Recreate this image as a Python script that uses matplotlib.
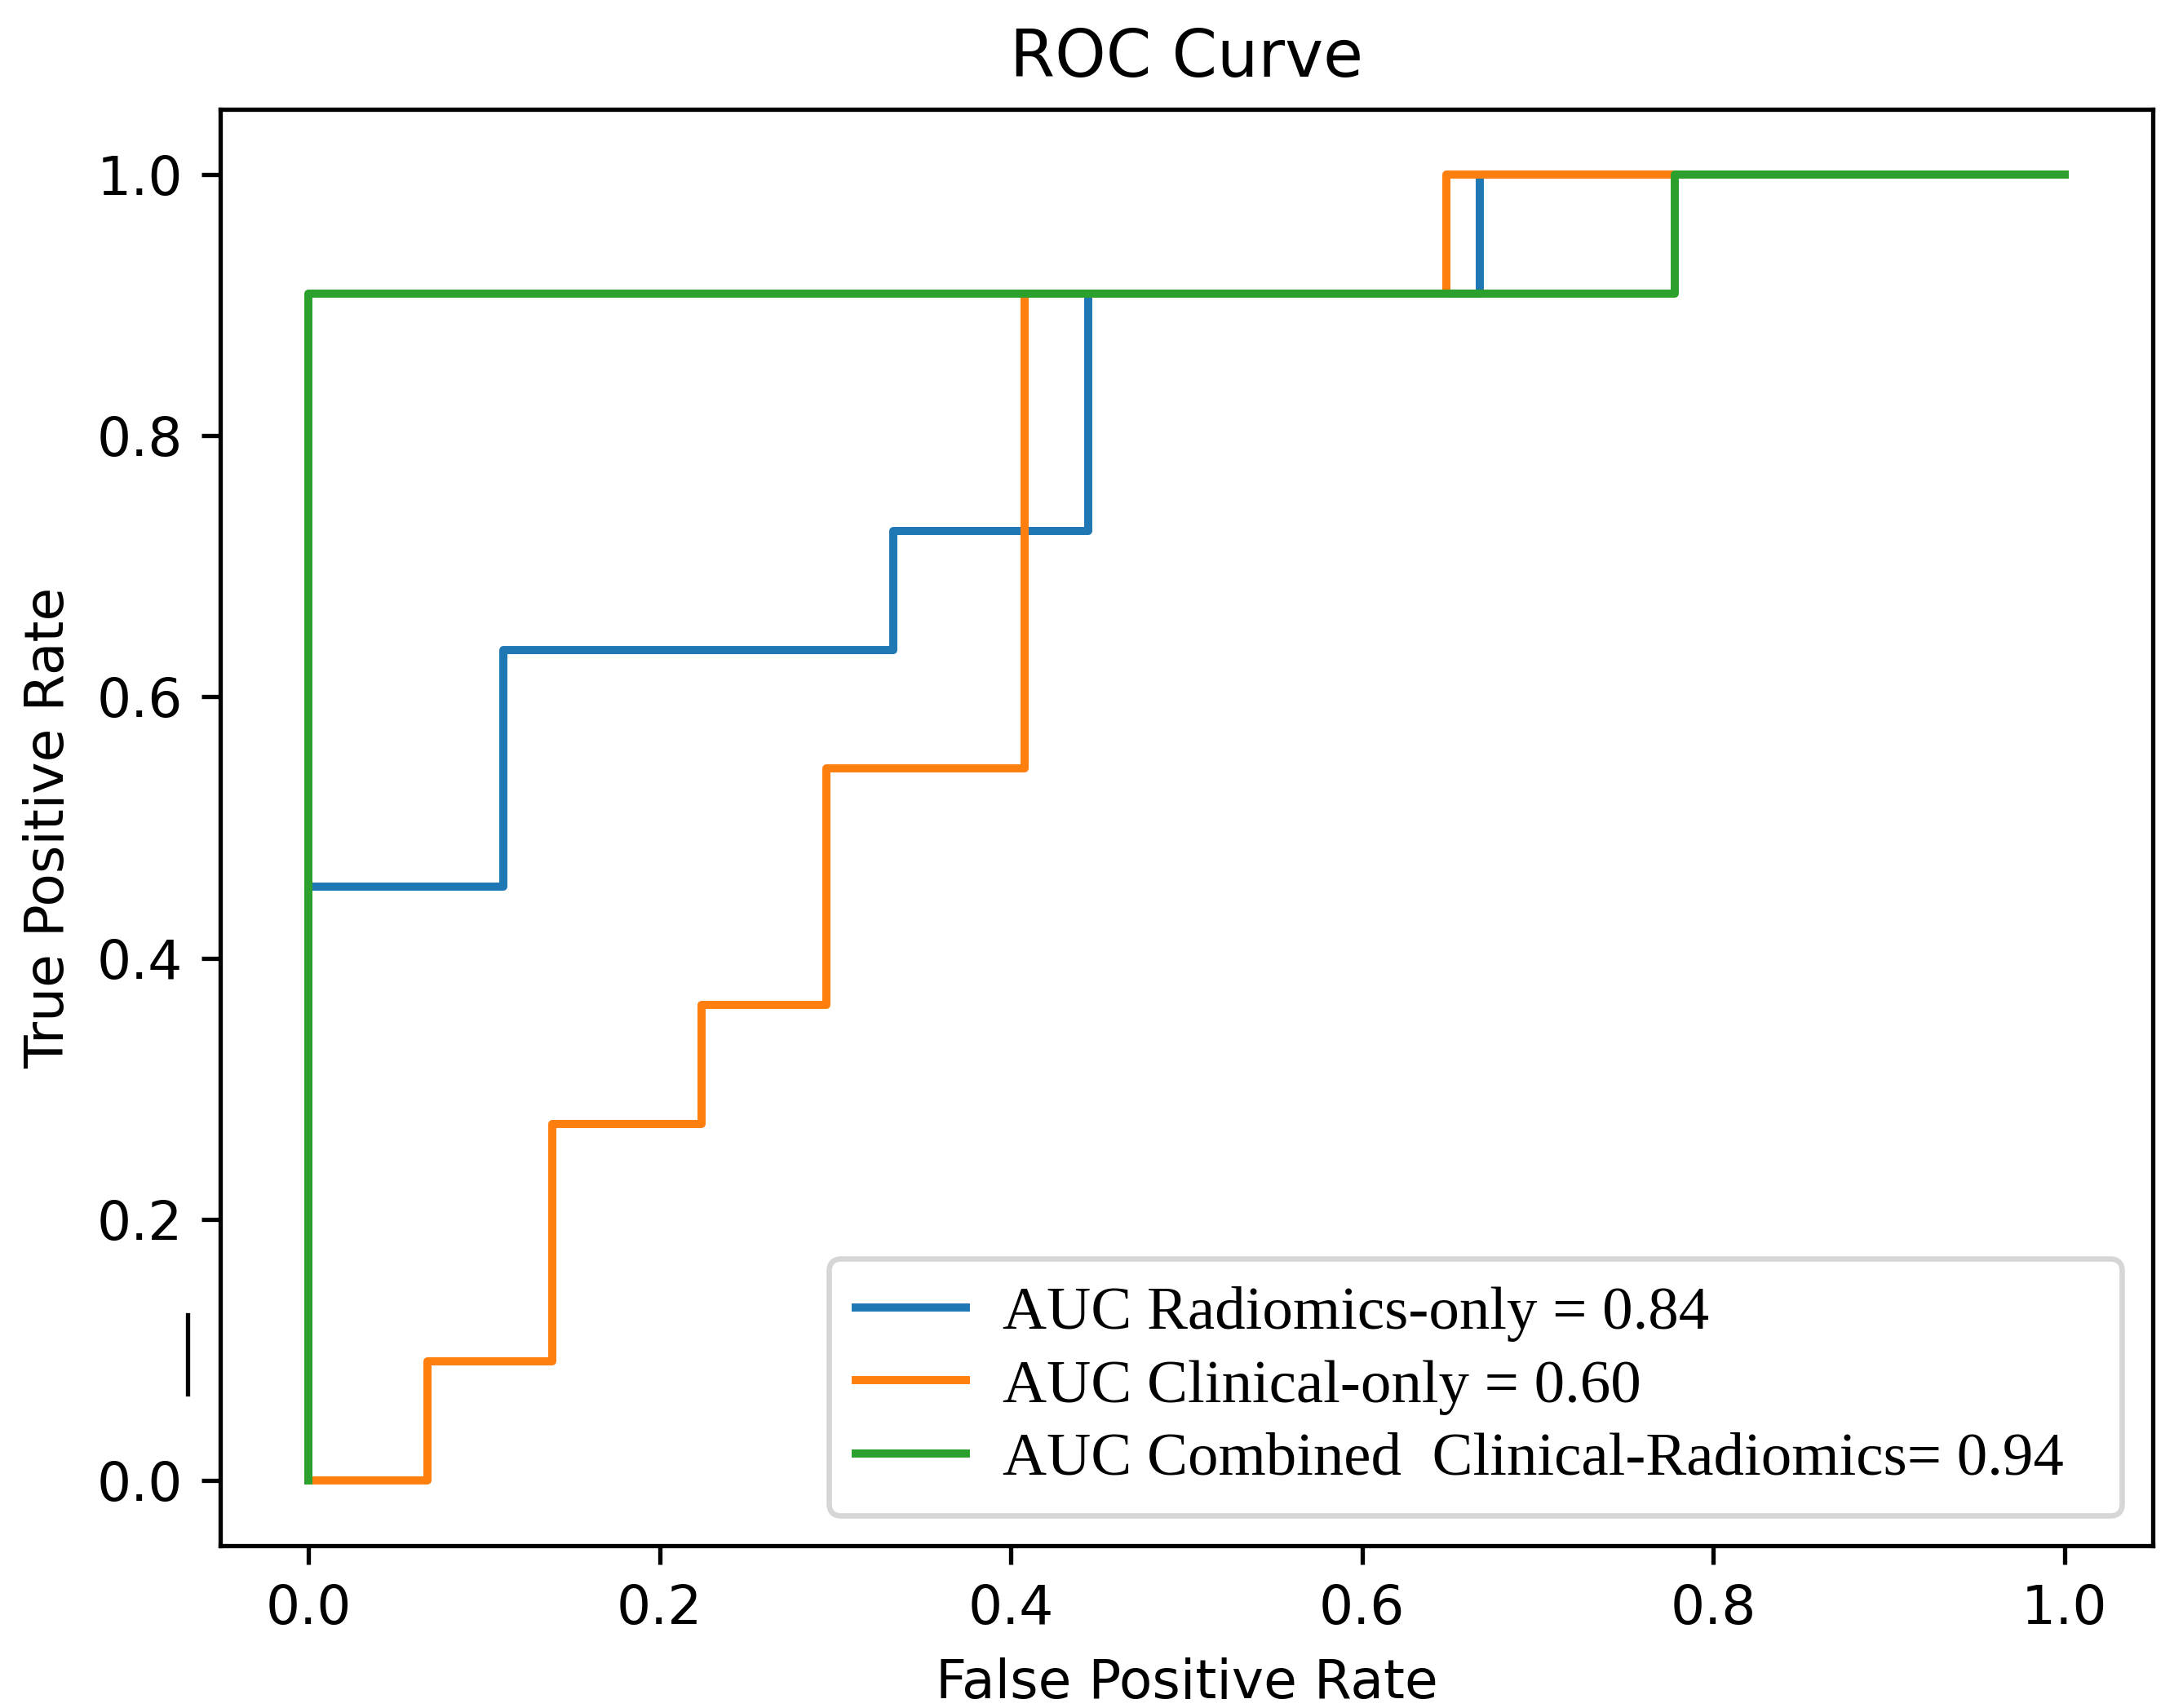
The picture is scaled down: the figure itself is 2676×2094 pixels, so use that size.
import matplotlib
matplotlib.use('Agg')
import matplotlib.pyplot as plt
from matplotlib.lines import Line2D

# ROC points (FPR, TPR)
fpr_radiomics = [0.0, 0.0, 0.111, 0.111, 0.333, 0.333, 0.444, 0.444, 0.667, 0.667, 1.0]
tpr_radiomics = [0.0, 0.4545, 0.4545, 0.636, 0.636, 0.727, 0.727, 0.909, 0.909, 1.0, 1.0]

fpr_clinical = [0.0, 0.068, 0.068, 0.139, 0.139, 0.224, 0.224, 0.295, 0.295, 0.408, 0.408, 0.648, 0.648, 1.0]
tpr_clinical = [0.0, 0.0, 0.0909, 0.0909, 0.273, 0.273, 0.364, 0.364, 0.545, 0.545, 0.909, 0.909, 1.0, 1.0]

fpr_combined = [0.0, 0.0, 0.778, 0.778, 1.0]
tpr_combined = [0.0, 0.909, 0.909, 1.0, 1.0]

labels = ['AUC Radiomics-only = 0.84',
          'AUC Clinical-only = 0.60',
          'AUC Combined  Clinical-Radiomics= 0.94  ']

dpi = 477
fig = plt.figure(figsize=(2676 / dpi, 2094 / dpi), dpi=dpi)
ax = fig.add_axes([0.101, 0.095, 0.986 - 0.101, 0.936 - 0.095])

ax.plot(fpr_radiomics, tpr_radiomics, label=labels[0])
ax.plot(fpr_clinical, tpr_clinical, label=labels[1])
ax.plot(fpr_combined, tpr_combined, label=labels[2])

ax.set_xlabel('False Positive Rate')
ax.set_ylabel('True Positive Rate')
ax.set_title('ROC Curve')

leg = ax.legend(loc='lower right',
                prop={'family': 'Liberation Serif', 'size': 11.3},
                handlelength=1.8, handletextpad=0.6,
                labelspacing=0.28, borderpad=0.45)

# small stray tick left of the y axis in the original image
ax.add_line(Line2D([-0.017, -0.017], [0.066 / 1.1 + 0.05 / 1.1, 0.127 / 1.1 + 0.05 / 1.1],
                   transform=ax.transAxes, color='black', lw=0.8, clip_on=False))

fig.savefig('out.png', dpi=dpi, facecolor='white')
